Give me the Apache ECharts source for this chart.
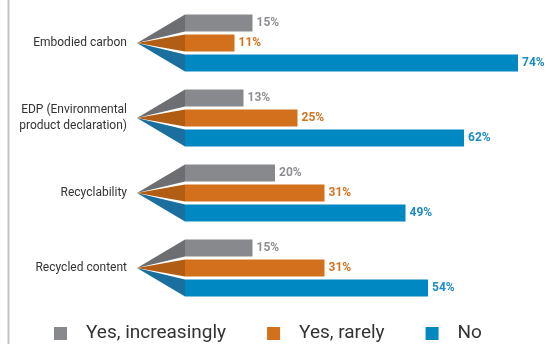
<!DOCTYPE html>
<html>
<head>
<meta charset="utf-8">
<script src="https://cdn.jsdelivr.net/npm/echarts@6/dist/echarts.min.js"></script>
<style>html,body{margin:0;padding:0;background:#fff}#c{width:551px;height:344px}</style>
</head>
<body>
<div id="c"></div>
<script>
const categories = ['Embodied carbon', 'EDP (Environmental\nproduct declaration)', 'Recyclability', 'Recycled content'];
const seriesNames = ['Yes, increasingly', 'Yes, rarely', 'No'];
const yesIncreasingly = [15, 13, 20, 15];
const yesRarely = [11, 25, 31, 31];
const no = [74, 62, 49, 54];

const barColors = ['#88898c', '#d2701b', '#0088c2'];
const fanColors = ['#6d6e71', '#b15e14', '#1a6f9f'];
const labelColors = ['#8e8f92', '#d4721e', '#1a8cc6'];
const values = [yesIncreasingly, yesRarely, no];

const BAR_W = 17, GAP = 3, FAN_LEN = 48;

const chart = echarts.init(document.getElementById('c'), null, {renderer: 'canvas'});

const barSeries = values.map((vals, i) => ({
  name: seriesNames[i],
  type: 'bar',
  data: vals,
  barWidth: BAR_W,
  barGap: (GAP / BAR_W * 100) + '%',
  itemStyle: {color: barColors[i]},
  z: 3,
  label: {
    show: true, position: 'right', distance: 4,
    formatter: '{c}%',
    color: labelColors[i], fontFamily: 'Roboto', fontWeight: 'bold', fontSize: 12
  }
}));

const fanSeries = values.map((vals, i) => ({
  type: 'custom',
  silent: true,
  z: 2,
  data: vals.map((v, k) => [0, k]),
  encode: {x: 0, y: 1},
  renderItem: function (params, api) {
    const c = api.coord([0, api.value(1)]);
    const off = (i - 1) * (BAR_W + GAP);
    return {
      type: 'polygon',
      shape: {points: [
        [c[0] - FAN_LEN, c[1]],
        [c[0], c[1] + off - BAR_W / 2],
        [c[0], c[1] + off + BAR_W / 2]
      ]},
      style: {fill: fanColors[i]}
    };
  }
}));

chart.setOption({
  animation: false,
  grid: {left: 185, top: 5.5, height: 300, width: 360},
  xAxis: {type: 'value', min: 0, max: 80, show: false},
  yAxis: {
    type: 'category', data: categories, inverse: true,
    axisLine: {show: false}, axisTick: {show: false},
    axisLabel: {margin: 58, color: '#333', fontFamily: 'Roboto', fontSize: 12, lineHeight: 16, align: 'right'}
  },
  legend: {
    data: seriesNames,
    left: 49, top: 319,
    icon: 'rect', itemWidth: 13, itemHeight: 13, itemGap: 41,
    textStyle: {color: '#333', fontFamily: 'Roboto', fontSize: 19, padding: [0, 0, 0, 14]}
  },
  graphic: [{
    type: 'line', shape: {x1: 8.5, y1: 0, x2: 8.5, y2: 344},
    style: {stroke: '#c4c4c4', lineWidth: 2}
  }],
  series: barSeries.concat(fanSeries)
});
</script>
</body>
</html>
